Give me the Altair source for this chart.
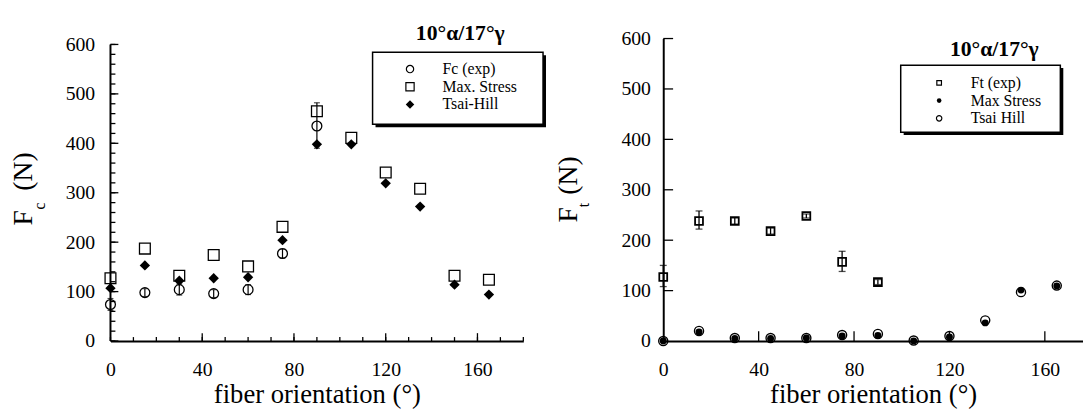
import altair as alt
import pandas as pd

SERIF = "Liberation Serif"

# ---------------- data ----------------
angles = [0, 15, 30, 45, 60, 75, 90, 105, 120, 135, 150, 165]

# left panel: compressive force Fc
fc_exp_x = [0, 15, 30, 45, 60, 75, 90]
fc_exp = [74, 98, 104, 96, 104, 177, 435]
fc_exp_lo = [62, 90, 93, 88, 94, 168, 390]
fc_exp_hi = [86, 106, 115, 104, 114, 186, 482]
fc_maxstress = [127, 187, 132, 174, 151, 231, 465, 411, 341, 308, 132, 124]
fc_tsaihill = [107, 153, 122, 127, 129, 204, 398, 398, 319, 272, 114, 94]

# right panel: tensile force Ft
ft_exp_x = [0, 15, 30, 45, 60, 75, 90]
ft_exp = [127, 238, 238, 218, 248, 157, 117]
ft_exp_lo = [108, 222, 232, 212, 244, 138, 112]
ft_exp_hi = [150, 258, 244, 224, 252, 178, 122]
ft_maxstress = [0, 18, 5, 5, 6, 10, 11, 0, 8, 36, 101, 109]
ft_tsaihill = [0, 20, 6, 6, 6, 12, 14, 1, 10, 41, 97, 110]

# axis labels / ticks
x_labels = [0, 40, 80, 120, 160]
y_labels = [0, 100, 200, 300, 400, 500, 600]
left_y_minor = list(range(0, 601, 20))
left_y_major = [0, 100, 200, 300, 400, 500, 600]
left_x_minor = list(range(0, 181, 10))
left_x_major = [40, 80, 120, 160]
right_y_major = [100, 200, 300, 400, 500, 600]
right_x_major = [40, 80, 120, 160]

panel_title = "10°α/17°γ"
left_legend = ["Fc (exp)", "Max. Stress", "Tsai-Hill"]
right_legend = ["Ft (exp)", "Max Stress", "Tsai Hill"]
x_title = "fiber orientation (°)"

H = 307  # common plot height of both panels


# ---------------- helpers ----------------
def txt(s, x, y, size, angle=0, bold=False, align="center", baseline="middle"):
    return alt.Chart(pd.DataFrame({"t": [s]})).mark_text(
        font=SERIF, fontSize=size, angle=angle, align=align, baseline=baseline,
        fontWeight="bold" if bold else "normal", color="black",
    ).encode(text="t:N", x=alt.value(x), y=alt.value(y))


def sym(shape, filled, size, x, y, sw=1.2):
    return alt.Chart(pd.DataFrame({"s": [0]})).mark_point(
        shape=shape, filled=filled, size=size, color="black", strokeWidth=sw, opacity=1,
    ).encode(x=alt.value(x), y=alt.value(y))


def box(x1, y1, x2, y2):
    shadow = alt.Chart(pd.DataFrame({"s": [0]})).mark_rect(color="black").encode(
        x=alt.value(x1 + 3), x2=alt.value(x2 + 3), y=alt.value(y1 + 3), y2=alt.value(y2 + 3))
    face = alt.Chart(pd.DataFrame({"s": [0]})).mark_rect(
        fill="white", stroke="black", strokeWidth=1.5).encode(
        x=alt.value(x1), x2=alt.value(x2), y=alt.value(y1), y2=alt.value(y2))
    return shadow + face


def make_axes(xdom, ydom, ylabpad, ydomain_line):
    xaxis = alt.Axis(values=x_labels, tickSize=0, domainColor="black", domainWidth=2,
                     labelFont=SERIF, labelFontSize=20, labelColor="black", labelFlush=False,
                     labelPadding=19, grid=False, title=x_title, titleFont=SERIF,
                     titleFontSize=27, titleFontWeight="normal", titleColor="black",
                     titlePadding=2)
    yaxis = alt.Axis(values=y_labels, tickSize=0, domain=ydomain_line, domainColor="black",
                     domainWidth=2, labelFont=SERIF, labelFontSize=20, labelColor="black",
                     labelFlush=False, labelPadding=ylabpad, grid=False, title=None)
    xs = alt.Scale(domain=xdom, nice=False, zero=False)
    ys = alt.Scale(domain=ydom, nice=False)

    def X(f):
        return alt.X(f, type="quantitative", scale=xs, axis=xaxis)

    def Y(f):
        return alt.Y(f, type="quantitative", scale=ys, axis=yaxis)

    return X, Y


def yticks(Y, vals, length, w=1.3):
    return alt.Chart(pd.DataFrame({"v": vals})).mark_rule(color="black", strokeWidth=w).encode(
        y=Y("v"), x=alt.value(0), x2=alt.value(length))


def xticks(X, vals, length, w=1.3):
    return alt.Chart(pd.DataFrame({"v": vals})).mark_rule(color="black", strokeWidth=w).encode(
        x=X("v"), y=alt.value(H), y2=alt.value(H - length))


def points(X, Y, df, yf, shape, filled, size, sw=1.3):
    return alt.Chart(df).mark_point(shape=shape, filled=filled, color="black", size=size,
                                    strokeWidth=sw, opacity=1).encode(x=X("x"), y=Y(yf))


def errbars(X, Y, df, cap, sw):
    bar = alt.Chart(df).mark_rule(color="black", strokeWidth=sw).encode(
        x=X("x"), y=Y("lo"), y2=alt.Y2("hi"))
    lo = alt.Chart(df).mark_tick(orient="horizontal", color="black", size=cap, thickness=sw).encode(
        x=X("x"), y=Y("lo"))
    hi = alt.Chart(df).mark_tick(orient="horizontal", color="black", size=cap, thickness=sw).encode(
        x=X("x"), y=Y("hi"))
    return bar + lo + hi


# ---------------- left panel ----------------
LW = 419
# left axis spans 0..600 over 301 px; its top sits 6 px below the panel top
LX, LY = make_axes([0, 180], [0, 600 * H / 301], 16, False)

l_exp = pd.DataFrame({"x": fc_exp_x, "y": fc_exp, "lo": fc_exp_lo, "hi": fc_exp_hi})
l_mod = pd.DataFrame({"x": angles, "ms": fc_maxstress, "th": fc_tsaihill})
l_axis = pd.DataFrame({"a": [y_labels[0]], "b": [y_labels[-1]]})

l_axis_line = alt.Chart(l_axis).mark_rule(color="black", strokeWidth=2).encode(
    x=alt.value(0), y=LY("a"), y2=alt.Y2("b"))

left = alt.layer(
    l_axis_line,
    yticks(LY, left_y_minor, 5), yticks(LY, left_y_major, 8),
    xticks(LX, left_x_minor, 4), xticks(LX, left_x_major, 8),
    errbars(LX, LY, l_exp, 6, 1.2),
    points(LX, LY, l_mod, "ms", "square", False, 120),
    points(LX, LY, l_mod, "th", "diamond", True, 110),
    points(LX, LY, l_exp, "y", "circle", False, 100),
    txt(panel_title, 355, -6, 22, bold=True),
    box(266, 14, 439, 87),
    sym("circle", False, 55, 304, 31), txt(left_legend[0], 337, 31, 16, align="left"),
    sym("square", False, 70, 304, 49), txt(left_legend[1], 337, 49, 16, align="left"),
    sym("diamond", True, 75, 304, 67), txt(left_legend[2], 337, 67, 16, align="left"),
    txt("F", -88, 182, 28, angle=270), txt("c", -71, 170, 16, angle=270),
    txt("(N)", -88, 135, 28, angle=270),
).properties(width=LW, height=H)

# ---------------- right panel ----------------
RW = 426
RX, RY = make_axes([0, 176], [0, 600], 13, True)

r_exp = pd.DataFrame({"x": ft_exp_x, "y": ft_exp, "lo": ft_exp_lo, "hi": ft_exp_hi})
r_mod = pd.DataFrame({"x": angles, "ms": ft_maxstress, "th": ft_tsaihill})

right = alt.layer(
    yticks(RY, right_y_major, 10), xticks(RX, right_x_major, 10),
    errbars(RX, RY, r_exp, 7, 1.3),
    points(RX, RY, r_exp, "y", "square", False, 64, 1.8),
    points(RX, RY, r_mod, "ms", "circle", True, 50),
    points(RX, RY, r_mod, "th", "circle", False, 85, 1.4),
    txt(panel_title, 336, 11, 22, bold=True),
    box(241, 27, 403, 95),
    sym("square", False, 22, 280, 45), txt(right_legend[0], 312, 45, 16, align="left"),
    sym("circle", True, 22, 280, 63), txt(right_legend[1], 312, 63, 16, align="left"),
    sym("circle", False, 30, 280, 81), txt(right_legend[2], 312, 81, 16, align="left"),
    txt("F", -96, 179, 28, angle=270), txt("t", -80, 169, 16, angle=270),
    txt("(N)", -96, 139, 28, angle=270),
).properties(width=RW, height=H)

chart = alt.hconcat(left, right, spacing=9).properties(
    padding={"left": 2, "top": 11, "right": 0, "bottom": 0}
).configure_view(strokeWidth=0)

chart.save("out.html", embed_options={"renderer": "svg", "actions": False})
